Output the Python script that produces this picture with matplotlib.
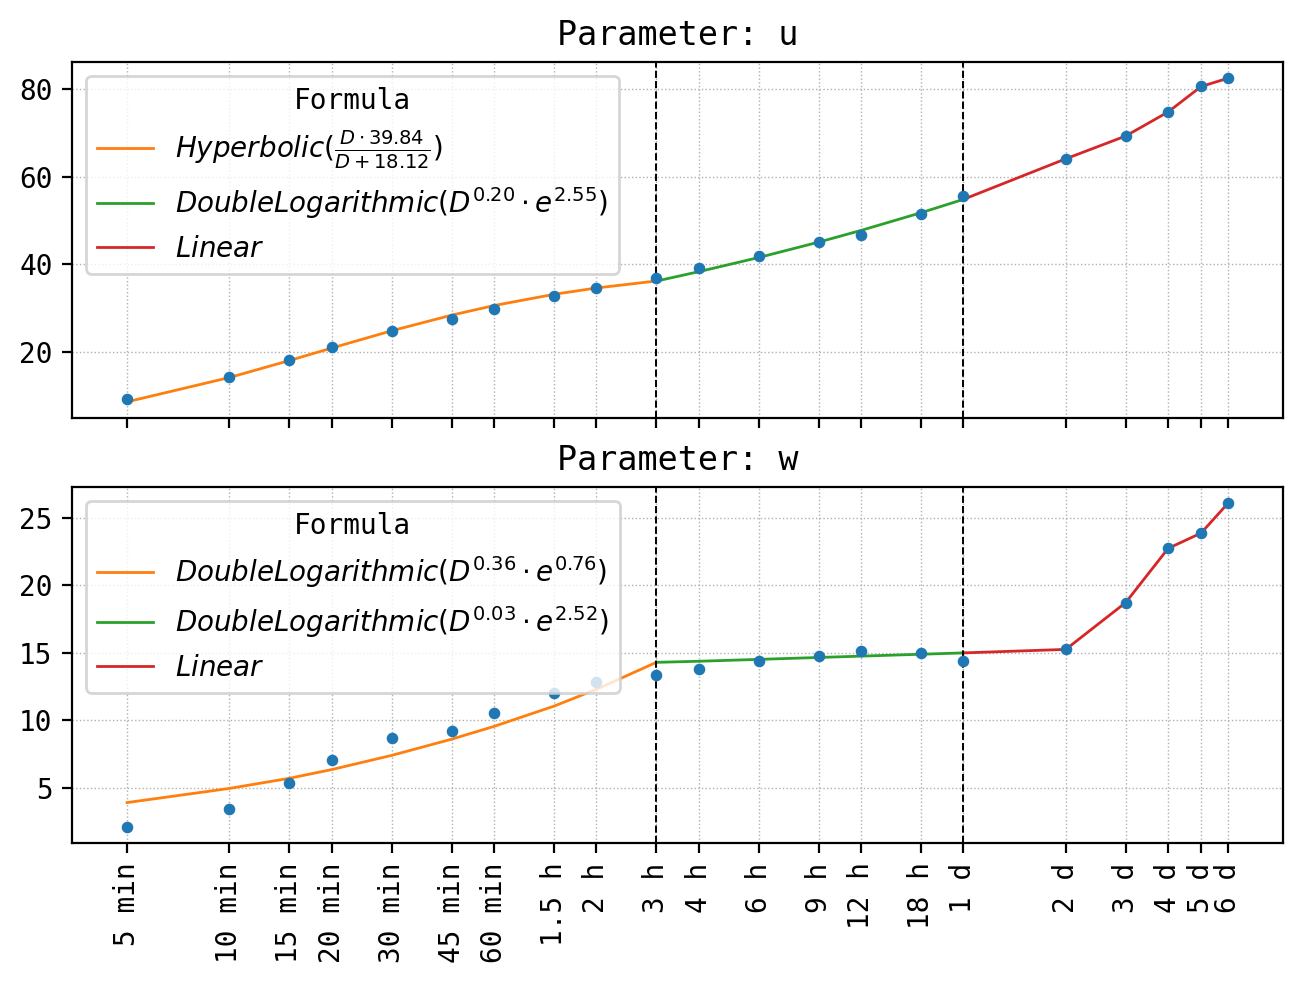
import numpy as np
import matplotlib.pyplot as plt
from matplotlib.ticker import FixedLocator, FixedFormatter, NullLocator

plt.rcParams['font.family'] = ['DejaVu Sans Mono']

# durations in minutes and their labels
durations = [5, 10, 15, 20, 30, 45, 60, 90, 120, 180, 240, 360, 540, 720,
             1080, 1440, 2880, 4320, 5760, 7200, 8640]
tick_labels = ['5 min', '10 min', '15 min', '20 min', '30 min', '45 min',
               '60 min', '1.5 h', '2 h', '3 h', '4 h', '6 h', '9 h', '12 h',
               '18 h', '1 d', '2 d', '3 d', '4 d', '5 d', '6 d']
breaks = [180, 1440]

# parameter u
u_obs = [9.3, 14.3, 18.2, 21.1, 24.8, 27.5, 29.8, 32.7, 34.5, 36.8, 39.1,
         41.8, 45.0, 46.8, 51.6, 55.7, 64.1, 69.3, 74.8, 80.7, 82.5]
u_fit1 = [8.62, 14.17, 18.04, 20.90, 24.84, 28.40, 30.60, 33.16, 34.61, 36.20]
u_fit2 = [36.18, 38.33, 41.56, 45.07, 47.75, 51.78, 54.84]
u_fit3 = [54.84, 64.1, 69.3, 74.8, 80.6, 82.5]
u_labels = [r'$Hyperbolic(\frac{D \cdot 39.84}{D + 18.12})$',
            r'$DoubleLogarithmic(D^{0.20} \cdot e^{2.55})$',
            r'$Linear$']

# parameter w
w_obs = [2.1, 3.45, 5.37, 7.07, 8.69, 9.2, 10.53, 12.0, 12.82, 13.34, 13.78,
         14.37, 14.74, 15.11, 14.96, 14.37, 15.26, 18.73, 22.75, 23.89, 26.1]
w_fit1 = [3.9, 4.95, 5.7, 6.35, 7.4, 8.6, 9.55, 11.05, 12.3, 14.3]
w_fit2 = [14.3, 14.38, 14.52, 14.66, 14.76, 14.9, 15.0]
w_fit3 = [15.0, 15.26, 18.73, 22.75, 23.89, 26.1]
w_labels = [r'$DoubleLogarithmic(D^{0.36} \cdot e^{0.76})$',
            r'$DoubleLogarithmic(D^{0.03} \cdot e^{2.52})$',
            r'$Linear$']

fig, axes = plt.subplots(2, 1, sharex=True, figsize=(6.515, 4.915), dpi=200)
fig.subplots_adjust(left=0.0553, right=0.9847, top=0.9369, bottom=0.1424,
                    hspace=0.194)

d = np.array(durations)
seg1 = d <= breaks[0]
seg2 = (d >= breaks[0]) & (d <= breaks[1])
seg3 = d >= breaks[1]

panels = [('u', u_obs, (u_fit1, u_fit2, u_fit3), u_labels),
          ('w', w_obs, (w_fit1, w_fit2, w_fit3), w_labels)]

for ax, (name, obs, fits, labels) in zip(axes, panels):
    ax.scatter(d, obs, s=10, color='tab:blue', zorder=3)
    colors = ['tab:orange', 'tab:green', 'tab:red']
    for mask, fit, c, lab in zip((seg1, seg2, seg3), fits, colors, labels):
        ax.plot(d[mask], fit, color=c, lw=1, label=lab)
    for b in breaks:
        ax.axvline(b, color='black', ls='--', lw=0.7)
    ax.set_xscale('log')
    ax.xaxis.set_major_locator(FixedLocator(durations))
    ax.xaxis.set_major_formatter(FixedFormatter(tick_labels))
    ax.xaxis.set_minor_locator(NullLocator())
    ax.grid(True, ls=':', lw=0.5, color='#b0b0b0')
    ax.set_title(f'Parameter: {name}', fontsize=12)
    ax.legend(title='Formula', loc='upper left', fontsize=10,
              title_fontsize=10)

plt.setp(axes[1].get_xticklabels(), rotation=90)

fig.savefig('out.png', dpi=200)
